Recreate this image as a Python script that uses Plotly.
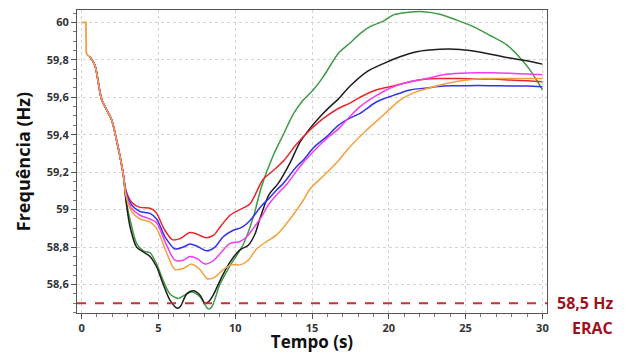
import plotly.graph_objects as go

# Common initial segment (all cases overlap)
t_common = [0, 0.28, 0.30, 0.39, 0.54]
f_common = [60.0, 60.0, 59.84, 59.825, 59.816]

t_shared = [0.54, 0.87, 1.30, 1.95, 2.28, 2.71]
f_shared = [59.816, 59.77, 59.59, 59.48, 59.37, 59.19]

t_red = [2.9, 3.26, 3.8, 4.45, 4.85, 5.35, 5.9, 6.4, 7.05, 7.55, 8.1, 8.6, 9.0, 9.66, 10.3, 10.96, 11.8, 12.5, 13.2, 14.0, 14.87, 15.74, 16.71, 17.5, 18.13, 19.21, 20.3, 21.38, 22.47, 23.55, 24.64, 25.73, 26.81, 27.9, 28.98, 30.0]
f_red = [59.10, 59.04, 59.012, 59.007, 58.985, 58.90, 58.84, 58.845, 58.878, 58.868, 58.85, 58.864, 58.905, 58.97, 59.0, 59.03, 59.16, 59.21, 59.265, 59.35, 59.425, 59.487, 59.54, 59.57, 59.60, 59.64, 59.66, 59.683, 59.697, 59.70, 59.70, 59.697, 59.697, 59.692, 59.688, 59.683]

t_blue = [2.9, 3.26, 3.8, 4.45, 4.88, 5.43, 6.08, 6.62, 7.05, 7.49, 8.14, 8.68, 9.22, 9.87, 10.42, 11.0, 11.7, 12.2, 12.7, 13.13, 14.0, 14.5, 15.09, 15.96, 16.71, 17.5, 18.13, 19.21, 20.3, 21.38, 22.47, 23.55, 24.64, 25.73, 27.25, 28.98, 30.0]
f_blue = [59.09, 59.025, 58.99, 58.98, 58.95, 58.855, 58.79, 58.80, 58.816, 58.806, 58.78, 58.80, 58.855, 58.89, 58.905, 58.945, 59.02, 59.06, 59.105, 59.14, 59.23, 59.27, 59.33, 59.39, 59.45, 59.49, 59.514, 59.576, 59.61, 59.639, 59.65, 59.66, 59.661, 59.663, 59.661, 59.66, 59.656]

t_magenta = [2.9, 3.26, 3.8, 4.45, 4.88, 5.53, 6.08, 6.62, 7.05, 7.49, 8.03, 8.57, 9.12, 9.66, 10.31, 10.75, 11.18, 11.7, 12.2, 12.7, 13.4, 14.22, 15.09, 15.96, 16.71, 17.5, 18.13, 19.21, 20.3, 21.38, 22.47, 23.55, 24.64, 25.73, 26.81, 27.9, 28.98, 30.0]
f_magenta = [59.08, 59.007, 58.97, 58.95, 58.93, 58.81, 58.73, 58.73, 58.75, 58.74, 58.71, 58.727, 58.775, 58.82, 58.83, 58.855, 58.90, 58.96, 59.03, 59.08, 59.14, 59.23, 59.31, 59.38, 59.43, 59.50, 59.55, 59.61, 59.656, 59.683, 59.70, 59.72, 59.728, 59.731, 59.731, 59.728, 59.724, 59.72]

t_orange = [2.9, 3.26, 3.8, 4.45, 4.88, 5.53, 6.08, 6.62, 7.16, 7.7, 8.2, 8.68, 9.22, 9.77, 10.31, 10.85, 11.39, 12.05, 12.7, 13.57, 14.43, 14.87, 15.74, 16.6, 17.48, 18.56, 19.65, 20.73, 21.82, 22.9, 23.99, 25.08, 26.16, 27.25, 28.33, 30.0]
f_orange = [59.07, 58.99, 58.95, 58.935, 58.90, 58.77, 58.68, 58.686, 58.71, 58.68, 58.63, 58.64, 58.68, 58.705, 58.705, 58.73, 58.79, 58.83, 58.865, 58.95, 59.05, 59.11, 59.18, 59.25, 59.336, 59.425, 59.505, 59.585, 59.63, 59.656, 59.678, 59.692, 59.70, 59.70, 59.70, 59.70]

t_green = [2.9, 3.26, 3.58, 4.01, 4.45, 4.88, 5.32, 5.75, 6.29, 6.73, 7.16, 7.7, 8.25, 8.47, 9.0, 9.66, 10.5, 11.18, 11.7, 12.48, 13.13, 13.78, 14.43, 15.09, 15.74, 16.71, 17.48, 18.13, 18.78, 19.65, 20.3, 21.16, 22.25, 23.33, 24.42, 25.5, 26.59, 27.68, 28.55, 29.2, 29.63, 30.0]
f_green = [59.05, 58.91, 58.82, 58.78, 58.77, 58.71, 58.62, 58.55, 58.526, 58.544, 58.56, 58.535, 58.47, 58.48, 58.60, 58.70, 58.81, 58.96, 59.12, 59.29, 59.40, 59.51, 59.585, 59.64, 59.71, 59.834, 59.89, 59.94, 59.977, 60.007, 60.04, 60.053, 60.057, 60.043, 60.012, 59.977, 59.93, 59.88, 59.81, 59.745, 59.69, 59.64]

t_black = [2.9, 3.15, 3.58, 4.01, 4.45, 4.88, 5.32, 5.75, 6.25, 6.45, 6.84, 7.27, 7.7, 8.03, 8.25, 8.57, 9.12, 9.66, 10.31, 10.85, 11.29, 11.6, 12.2, 12.8, 13.57, 14.22, 14.87, 15.52, 16.17, 16.71, 17.48, 18.56, 19.65, 20.73, 21.82, 23.33, 24.64, 26.16, 27.68, 28.98, 30.0]
f_black = [59.04, 58.91, 58.80, 58.775, 58.75, 58.695, 58.60, 58.517, 58.473, 58.485, 58.55, 58.567, 58.544, 58.50, 58.508, 58.544, 58.64, 58.72, 58.785, 58.81, 58.87, 58.95, 59.08, 59.14, 59.25, 59.36, 59.434, 59.496, 59.55, 59.59, 59.66, 59.736, 59.78, 59.816, 59.843, 59.856, 59.855, 59.838, 59.812, 59.795, 59.777]

erac_limit = 58.5
erac_labels = ["58,5 Hz", "ERAC"]
x_ticks = [0, 5, 10, 15, 20, 25, 30]
y_ticks = [58.6, 58.8, 59.0, 59.2, 59.4, 59.6, 59.8, 60.0]
y_tick_text = ["58,6", "58,8", "59", "59,2", "59,4", "59,6", "59,8", "60"]

series = [
    (t_green, f_green, "#3f9a45"),
    (t_black, f_black, "#1e1e1e"),
    (t_red, f_red, "#e8262c"),
    (t_blue, f_blue, "#3333ee"),
    (t_magenta, f_magenta, "#f23cf0"),
    (t_orange, f_orange, "#f5a03c"),
]

fig = go.Figure()
for t, f, c in series:
    fig.add_trace(go.Scatter(
        x=t_shared + t, y=f_shared + f, mode="lines",
        line=dict(color=c, width=1.5, shape="spline", smoothing=0.8),
        showlegend=False, hoverinfo="skip"))
fig.add_trace(go.Scatter(
    x=t_common, y=f_common, mode="lines",
    line=dict(color="#f5a03c", width=1.8, shape="linear"),
    showlegend=False, hoverinfo="skip"))

fig.add_shape(type="line", xref="paper", x0=0, x1=1, yref="y", y0=erac_limit, y1=erac_limit,
              line=dict(color="#c8323a", width=2, dash="dash"))

fig.add_annotation(xref="paper", x=1.016, xanchor="left", yref="y", y=erac_limit, yanchor="middle",
                   text=erac_labels[0], showarrow=False,
                   font=dict(family="Open Sans", size=16, color="#9e1220", weight="bold"))
fig.add_annotation(xref="paper", x=1.096, xanchor="center", yref="paper", y=-0.05, yanchor="middle",
                   text=erac_labels[1], showarrow=False,
                   font=dict(family="Open Sans", size=16, color="#9e1220", weight="bold"))

tickfont = dict(family="Open Sans", size=11, color="#333333", weight="bold")
fig.update_xaxes(range=[-0.3, 30.3], tickvals=x_ticks, ticktext=[str(v) for v in x_ticks],
                 automargin=False,
                 showgrid=True, gridcolor="#d4d4d4", griddash="dot", gridwidth=1,
                 zeroline=False, showline=True, linecolor="#555555", linewidth=1, mirror=True,
                 ticks="outside", ticklen=5, tickcolor="#555555", tickfont=tickfont,
                 minor=dict(dtick=1, ticks="outside", ticklen=3, tickcolor="#777777", showgrid=False),
                 title=dict(text="Tempo (s)", standoff=6,
                            font=dict(family="Open Sans", size=17, color="#111111", weight="bold")))
fig.update_yaxes(range=[58.448, 60.066], tickvals=y_ticks, ticktext=y_tick_text,
                 automargin=False,
                 showgrid=True, gridcolor="#d4d4d4", griddash="dot", gridwidth=1,
                 zeroline=False, showline=True, linecolor="#555555", linewidth=1, mirror=True,
                 ticks="outside", ticklen=5, tickcolor="#555555", tickfont=tickfont,
                 minor=dict(dtick=0.05, ticks="outside", ticklen=3, tickcolor="#777777", showgrid=False),
                 title=dict(text="Frequência (Hz)", standoff=11,
                            font=dict(family="Open Sans", size=18, color="#111111", weight="bold")))

# The page body adds an 8px offset, so the figure is 8px smaller and margins shifted.
fig.update_layout(width=620, height=345, margin=dict(l=69, r=81, t=2, b=40),
                  plot_bgcolor="white", paper_bgcolor="white")

fig.write_html("out.html")
